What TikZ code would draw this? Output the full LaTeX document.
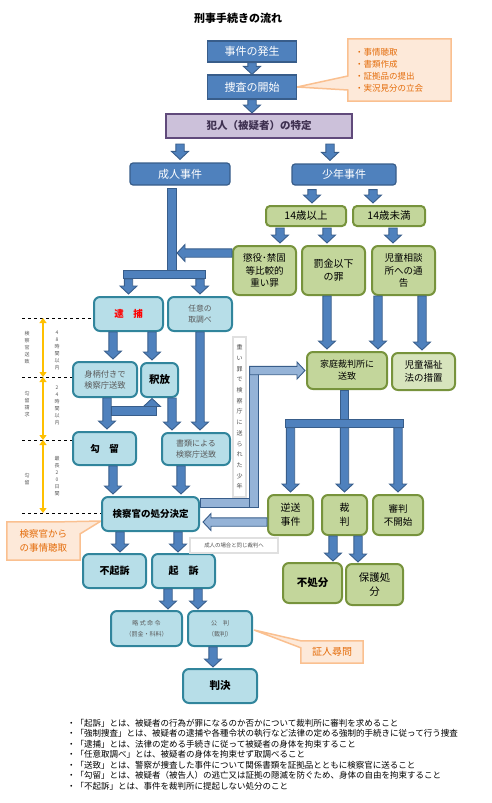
\documentclass[tikz,border=0pt]{standalone}
\usepackage{fontspec}
\setmainfont{Noto Sans CJK JP}
\usetikzlibrary{arrows.meta,calc,backgrounds}

\definecolor{bluefill}{HTML}{4F81BD}
\definecolor{blueline}{HTML}{385D8A}
\definecolor{lightarr}{HTML}{95B3D7}
\definecolor{tealfill}{HTML}{B7DEE8}
\definecolor{tealline}{HTML}{31859C}
\definecolor{greenfill}{HTML}{C3D69B}
\definecolor{greenpale}{HTML}{D7E4BD}
\definecolor{greenline}{HTML}{77933C}
\definecolor{purplefill}{HTML}{CCC1DA}
\definecolor{purpleline}{HTML}{604A7B}
\definecolor{purpletext}{HTML}{3F3151}
\definecolor{callfill}{HTML}{FDE9D9}
\definecolor{callline}{HTML}{FAC090}
\definecolor{calltext}{HTML}{E46C0A}
\definecolor{yellowarr}{HTML}{FFC000}
\definecolor{graytext}{HTML}{595959}

% block arrow / block bar between two points
\newcommand{\fatarrow}[3][]{%
  \path #2 coordinate (fs) #3 coordinate (ft);
  \filldraw[fatstyle,#1]
    ($(fs)!4.2pt!90:(ft)$) -- ($(ft)!8pt!(fs)!4.2pt!90:(ft)$) -- ($(ft)!8pt!(fs)!8.5pt!90:(ft)$)
    -- (ft) -- ($(ft)!8pt!(fs)!8.5pt!-90:(ft)$) -- ($(ft)!8pt!(fs)!4.2pt!-90:(ft)$)
    -- ($(fs)!4.2pt!-90:(ft)$) -- cycle;}
\newcommand{\fatbar}[3][]{%
  \path #2 coordinate (fs) #3 coordinate (ft);
  \filldraw[fatstyle,#1]
    ($(fs)!4.2pt!90:(ft)$) -- ($(ft)!4.2pt!-90:(fs)$) -- ($(ft)!4.2pt!90:(fs)$)
    -- ($(fs)!4.2pt!-90:(ft)$) -- cycle;}

\begin{document}
\begin{tikzpicture}[
  x=1pt, y=-1pt,
  sz/.style 2 args={minimum width=#1pt, minimum height=#2pt},
  bluebox/.style={rectangle, draw=blueline, fill=bluefill, line width=1.2pt, text=white, inner sep=0pt, font=\fontsize{11}{13}\selectfont},
  purplebox/.style={rectangle, draw=purpleline, fill=purplefill, line width=2pt, text=purpletext, inner sep=0pt, font=\bfseries\fontsize{10.5}{12}\selectfont},
  tealbox/.style={rectangle, rounded corners=6pt, draw=tealline, fill=tealfill, line width=2pt, align=center, inner sep=0pt, font=\fontsize{8}{11}\selectfont},
  greenbox/.style={rectangle, rounded corners=6pt, draw=greenline, fill=greenfill, line width=2pt, align=center, inner sep=0pt, font=\fontsize{9.5}{12.5}\selectfont},
  callbox/.style={rectangle, text=calltext, inner sep=0pt},
  callshape/.style={draw=callline, fill=callfill, line width=1.5pt, line join=miter},
  notebox/.style={rectangle, draw=black!12, fill=white, line width=1.5pt, inner sep=0pt, text=black!70, align=center},
  timeline/.style={draw=yellowarr, line width=2.5pt, {Triangle[width=7pt,length=5pt]}-{Triangle[width=7pt,length=5pt]}},
  guide/.style={draw=black, line width=0.8pt, dash pattern=on 3pt off 3pt},
  tinytext/.style={font=\fontsize{5}{7}\selectfont, text=black!65, align=center, inner sep=0pt},
  fatstyle/.style={draw=blueline, fill=bluefill, line width=0.9pt, line join=miter},
  light/.style={fill=lightarr}
]
  \useasboundingbox (0,0) rectangle (491,803);

  \node[font=\bfseries\fontsize{11}{13}\selectfont] (title) at (238,18) {刑事手続きの流れ};

  % investigation
  \node[bluebox, sz={89}{21}] (hassei) at (252,51.5) {事件の発生};
  \node[bluebox, sz={89}{24}] (sousa) at (252,87) {捜査の開始};
  \node[callbox, text width=89pt, align=left, inner xsep=7pt, minimum height=62pt, font=\fontsize{8.5}{12}\selectfont] (jc) at (399.5,70) {・事情聴取\\・書類作成\\・証拠品の提出\\・実況見分の立会};
  \node[purplebox, sz={186}{24}] (hannin) at (259,126) {犯人（被疑者）の特定};

  \node[bluebox, rounded corners=3pt, sz={100}{22}] (seijin) at (180,174) {成人事件};
  \node[bluebox, rounded corners=3pt, sz={104}{21}] (shonen) at (344,174.5) {少年事件};

  % juvenile
  \node[greenbox, rounded corners=4pt, sz={80}{20}, font=\fontsize{10.5}{12}\selectfont] (ijo) at (306,216) {14歳以上};
  \node[greenbox, rounded corners=4pt, sz={72}{20}, font=\fontsize{10.5}{12}\selectfont] (miman) at (389,216) {14歳未満};
  \node[greenbox, sz={63}{49}] (choeki) at (264.5,270.5) {懲役･禁固\\等比較的\\重い罪};
  \node[greenbox, sz={63}{49}, font=\fontsize{10}{13}\selectfont] (bakkin) at (333.5,270.5) {罰金以下\\の罪};
  \node[greenbox, sz={63}{49}] (jido) at (403.5,270.5) {児童相談\\所への通\\告};
  \node[greenbox, sz={80}{37}, font=\fontsize{9}{12}\selectfont] (katei) at (347,370.5) {家庭裁判所に\\送致};
  \node[greenbox, fill=greenpale, sz={63}{37}] (fukushi) at (423.5,371.5) {児童福祉\\法の措置};
  \node[greenbox, sz={45}{40}, font=\fontsize{10}{14}\selectfont] (gyakuso) at (290.5,515) {逆送\\事件};
  \node[greenbox, sz={45}{40}, font=\fontsize{10}{14}\selectfont] (saiban) at (344.5,515) {裁\\判};
  \node[greenbox, sz={50}{40}, font=\fontsize{9.5}{13}\selectfont] (shinpan) at (398,515) {審判\\不開始};
  \node[greenbox, sz={59}{40}, font=\bfseries\fontsize{10.5}{14}\selectfont] (fushobun) at (312.5,583) {不処分};
  \node[greenbox, sz={57}{41}, font=\fontsize{10.5}{14}\selectfont] (hogo) at (374.5,584.5) {保護処\\分};

  % adult
  \node[tealbox, sz={69}{34}, text=red, font=\bfseries\fontsize{9.5}{12}\selectfont] (taiho) at (128.5,314) {逮　捕};
  \node[tealbox, sz={64}{34}, text=graytext, font=\fontsize{7.8}{11}\selectfont] (nini) at (200,314) {任意の\\取調べ};
  \node[tealbox, sz={64}{35}, text=graytext, font=\fontsize{8.3}{11}\selectfont] (migara) at (105,379.5) {身柄付きで\\検察庁送致};
  \node[tealbox, sz={37}{34}, font=\bfseries\fontsize{10.5}{12}\selectfont] (shakuho) at (159.5,380) {釈放};
  \node[tealbox, sz={63}{33}, font=\bfseries\fontsize{9.5}{12}\selectfont] (koryu) at (104.5,448.5) {勾　留};
  \node[tealbox, sz={68}{32}, text=graytext] (shorui) at (196,449) {書類による\\検察庁送致};
  \node[tealbox, sz={97}{34}, font=\bfseries\fontsize{9.5}{12}\selectfont] (kenji) at (150.5,514) {検察官の処分決定};
  \node[tealbox, sz={63}{34}, font=\bfseries\fontsize{10}{12}\selectfont] (fukiso) at (114.5,571) {不起訴};
  \node[tealbox, sz={63}{34}, font=\bfseries\fontsize{10}{12}\selectfont] (kiso) at (183.5,571) {起　訴};
  \node[tealbox, sz={71}{35}, text=graytext, font=\fontsize{6}{11}\selectfont] (ryakushiki) at (146.5,628.5) {略 式 命 令\\（罰金・科料）};
  \node[tealbox, sz={64}{35}, text=graytext, font=\fontsize{6}{11}\selectfont] (kohan) at (220,628.5) {公　判\\（裁判）};
  \node[tealbox, sz={74}{34}, font=\bfseries\fontsize{10.5}{12}\selectfont] (hanketsu) at (220,686) {判決};

  \node[notebox, sz={13}{160}, font=\fontsize{6}{10.7}\selectfont] (heavy) at (239.5,417) {重\\い\\罪\\で\\検\\察\\庁\\に\\送\\ら\\れ\\た\\少\\年};
  \node[notebox, sz={88}{15}, font=\fontsize{5.4}{6}\selectfont] (same) at (234,545.5) {成人の場合と同じ裁判へ};

  \node[callbox, sz={73}{38}, align=left, font=\fontsize{9.5}{14}\selectfont] (kcall) at (43.5,541) {検察官から\\の事情聴取};
  \node[callbox, sz={62}{22}, font=\fontsize{10}{12}\selectfont] (shonin) at (332,652) {証人尋問};

  \begin{scope}[on background layer]
    \filldraw[callshape] (jc.north west) -- (jc.north east) -- (jc.south east) -- (jc.south west)
      -- ($(jc.west)+(0,20)$) -- (sousa.east) -- ($(jc.west)+(0,6)$) -- cycle;
    \filldraw[callshape] (kcall.north west) -- ($(kcall.north west)+(55,0)$) -- ($(kenji.west)+(0,7)$)
      -- ($(kcall.north east)+(0,12)$) -- (kcall.south east) -- (kcall.south west) -- cycle;
    \filldraw[callshape] (shonin.north west) -- (shonin.north east) -- (shonin.south east) -- (shonin.south west)
      -- ($(shonin.north west)+(0,7)$) -- ($(kohan.east)+(1,1.5)$) -- cycle;
  \end{scope}

  % time limits
  \coordinate (t1) at (43,318);
  \coordinate (t2) at (43,377);
  \coordinate (t3) at (43,440);
  \coordinate (t4) at (43,513);
  \draw[guide] ($(t1)+(-21,0)$) -- (t1 -| taiho.west);
  \draw[guide] ($(t2)+(-21,0)$) -- (t2 -| migara.west);
  \draw[guide] ($(t3)+(-21,0)$) -- (t3 -| koryu.west);
  \draw[guide] ($(t4)+(-21,0)$) -- (t4 -| kenji.west);
  \draw[timeline] (t1) -- (t2);
  \draw[timeline] (t2) -- (t3);
  \draw[timeline] (t3) -- (t4);
  \node[tinytext] (lb1) at (27,347.5) {検\\察\\官\\送\\致};
  \node[tinytext] (lb2) at (27,404) {勾\\留\\請\\求};
  \node[tinytext] (lb3) at (27,479) {勾\\留};
  \node[tinytext] (lt1) at (57,350) {4\\8\\時\\間\\以\\内};
  \node[tinytext] (lt2) at (57,405.5) {2\\4\\時\\間\\以\\内};
  \node[tinytext] (lt3) at (57,476.5) {最\\長\\2\\0\\日\\間};

  % arrows
  \fatarrow{(hassei.south)}{(sousa.north)}
  \fatarrow{(sousa.south)}{(sousa.south |- hannin.north)}
  \fatarrow{($(seijin.north |- hannin.south)+(0,5)$)}{($(seijin.north)+(0,-3)$)}
  \fatarrow{($(shonen.north |- hannin.south)+(-14,5)$)}{($(shonen.north)+(-14,-3)$)}

  \coordinate (sj) at ($(seijin.south)+(-8,89)$);
  \fatbar{($(seijin.south)+(-8,3)$)}{($(sj)+(0,4.2)$)}
  \fatbar{($(sj -| taiho.north)+(-5,0)$)}{($(sj -| nini.north)+(5,0)$)}
  \fatarrow{($(sj -| taiho.north)+(0,4.2)$)}{($(taiho.north)+(0,-2)$)}
  \fatarrow{($(sj -| nini.north)+(0,4.2)$)}{($(nini.north)+(0,-2)$)}
  \fatarrow{($(choeki.west)+(0,-17.5)$)}{($(sj |- choeki.west)+(5,-17.5)$)}

  \fatarrow{($(ijo.north |- shonen.south)+(6,4)$)}{($(ijo.north)+(6,-2)$)}
  \fatarrow{($(miman.north |- shonen.south)+(-16,4)$)}{($(miman.north)+(-16,-2)$)}
  \fatarrow{($(choeki.north |- ijo.south)+(15.5,1)$)}{($(choeki.north)+(15.5,-2)$)}
  \fatarrow{($(bakkin.north |- ijo.south)+(-6.5,1)$)}{($(bakkin.north)+(-6.5,-2)$)}
  \fatarrow{($(jido.north |- miman.south)+(-10.5,1)$)}{($(jido.north)+(-10.5,-2)$)}
  \fatarrow{($(bakkin.south)+(-6.5,0)$)}{($(bakkin.south |- katei.north)+(-6.5,-2)$)}
  \fatarrow{($(jido.south)+(-25.5,0)$)}{($(jido.south |- katei.north)+(-25.5,-2)$)}
  \fatarrow{($(jido.south)+(18.5,0)$)}{($(jido.south |- fukushi.north)+(18.5,-2)$)}

  \coordinate (kt) at ($(katei.south -| saiban.north)+(0,33.5)$);
  \fatbar{(katei.south -| saiban.north)}{($(kt)+(0,4.2)$)}
  \fatbar{($(kt -| gyakuso.north)+(-5,0)$)}{($(kt -| shinpan.north)+(5,0)$)}
  \fatarrow{($(kt -| gyakuso.north)+(0,4.2)$)}{($(gyakuso.north)+(0,-2)$)}
  \fatarrow{($(kt)+(0,4.2)$)}{($(saiban.north)+(0,-2)$)}
  \fatarrow{($(kt -| shinpan.north)+(0,4.2)$)}{($(shinpan.north)+(0,-2)$)}

  \fatarrow{($(migara.north |- taiho.south)+(8,0)$)}{($(migara.north)+(8,-2)$)}
  \fatarrow{($(shakuho.north |- taiho.south)+(-7.5,0)$)}{($(shakuho.north)+(-7.5,-2)$)}
  \fatarrow{(nini.south)}{($(nini.south |- shorui.north)+(0,-2)$)}
  \fatarrow{($(migara.south)+(2,0)$)}{($(migara.south |- koryu.north)+(2,-2)$)}
  \coordinate (ms) at ($(migara.south)+(2,13)$);
  \coordinate (mt) at ($(shakuho.south)+(-7.5,0.5)$);
  \fatarrow{(ms -| mt)}{(mt)}
  \fatbar{($(ms)+(4.2,0)$)}{($(ms -| mt)+(4.2,0)$)}
  \fatarrow{($(shakuho.south)+(12.5,0)$)}{($(shakuho.south |- shorui.north)+(12.5,-2)$)}
  \fatarrow{($(koryu.south)+(8.5,0)$)}{($(koryu.south |- kenji.north)+(8.5,-2)$)}
  \fatarrow{($(shorui.south)+(-15,0)$)}{($(shorui.south |- kenji.north)+(-15,-2)$)}
  \fatarrow{($(fukiso.north |- kenji.south)+(5.5,0)$)}{($(fukiso.north)+(5.5,-1)$)}
  \fatarrow{($(kiso.north |- kenji.south)+(-5.5,0)$)}{($(kiso.north)+(-5.5,-1)$)}
  \fatarrow{($(kiso.south)+(-15.5,0)$)}{($(kiso.south |- ryakushiki.north)+(-15.5,-1)$)}
  \fatarrow{($(kiso.south)+(14.5,0)$)}{($(kiso.south |- kohan.north)+(14.5,-1)$)}
  \fatarrow{($(kohan.south)+(-7,0)$)}{($(kohan.south |- hanketsu.north)+(-7,-1)$)}
  \fatarrow{($(saiban.south)+(-11.5,0)$)}{($(saiban.south |- fushobun.north)+(-11.5,-1)$)}
  \fatarrow{($(saiban.south)+(13.5,0)$)}{($(saiban.south |- hogo.north)+(13.5,-1)$)}

  % back to the prosecutor / to the family court
  \coordinate (g1) at ($(gyakuso.west)+(0,7)$);
  \fatarrow[light]{(g1)}{($(g1 -| kenji.east)+(3,0)$)}
  \coordinate (e1) at ($(kenji.east)+(0,-11)$);
  \coordinate (e2) at ($(heavy.east |- e1)+(7,0)$);
  \coordinate (e3) at (e2 |- katei.west);
  \fatbar[light]{(e1)}{($(e2)+(4.2,0)$)}
  \fatbar[light]{($(e2)+(0,4.2)$)}{($(e3)+(0,-4.2)$)}
  \fatarrow[light]{($(e3)+(-4.2,0)$)}{($(katei.west)+(-1,0)$)}

  \node[anchor=north west, align=left, inner sep=0pt, font=\fontsize{8.5}{10.5}\selectfont] (notes) at (67,719) {%
    ・「起訴」とは、被疑者の行為が罪になるのか否かについて裁判所に審判を求めること\\
    ・「強制捜査」とは、被疑者の逮捕や各種令状の執行など法律の定める強制的手続きに従って行う捜査\\
    ・「逮捕」とは、法律の定める手続きに従って被疑者の身体を拘束すること\\
    ・「任意取調べ」とは、被疑者の身体を拘束せず取調べること\\
    ・「送致」とは、警察が捜査した事件について関係書類を証拠品とともに検察官に送ること\\
    ・「勾留」とは、被疑者（被告人）の逃亡又は証拠の隠滅を防ぐため、身体の自由を拘束すること\\
    ・「不起訴」とは、事件を裁判所に提起しない処分のこと};
\end{tikzpicture}
\end{document}
